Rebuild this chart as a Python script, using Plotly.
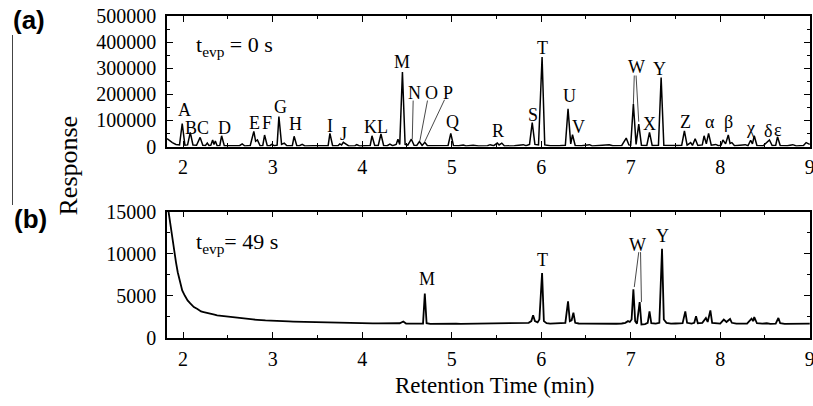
import plotly.graph_objects as go

# ---------------- DATA ----------------
# Panel (a): t_evp = 0 s chromatogram (retention time in min, response)
time_a = [1.82, 1.85, 1.88, 1.92, 1.96, 1.99, 2.02, 2.05, 2.08, 2.11, 2.15, 2.19, 2.22, 2.25, 2.27, 2.29,
          2.31, 2.33, 2.345, 2.36, 2.38, 2.41, 2.43, 2.46, 2.55, 2.63, 2.66, 2.69, 2.75, 2.79, 2.81, 2.83,
          2.86, 2.89, 2.91, 2.94, 2.97, 2.99, 3.02, 3.05, 3.07, 3.10, 3.13, 3.16, 3.22, 3.24, 3.27, 3.30,
          3.33, 3.36, 3.45, 3.55, 3.62, 3.64, 3.67, 3.73, 3.75, 3.77, 3.79, 3.82, 3.85, 3.92, 3.94, 3.97,
          4.05, 4.09, 4.11, 4.14, 4.18, 4.21, 4.24, 4.28, 4.31, 4.34, 4.38, 4.40, 4.42, 4.45, 4.48, 4.51,
          4.55, 4.58, 4.61, 4.64, 4.67, 4.70, 4.73, 4.80, 4.85, 4.96, 4.99, 5.02, 5.08, 5.13, 5.16, 5.24,
          5.30, 5.40, 5.43, 5.47, 5.51, 5.53, 5.56, 5.59, 5.70, 5.78, 5.80, 5.83, 5.87, 5.90, 5.93, 5.97,
          6.01, 6.04, 6.10, 6.20, 6.27, 6.30, 6.33, 6.35, 6.38, 6.45, 6.54, 6.57, 6.65, 6.76, 6.80, 6.90,
          6.95, 6.98, 7.00, 7.03, 7.06, 7.09, 7.12, 7.18, 7.21, 7.24, 7.31, 7.34, 7.37, 7.45, 7.52, 7.57,
          7.60, 7.63, 7.67, 7.69, 7.72, 7.75, 7.80, 7.82, 7.845, 7.87, 7.90, 7.95, 7.98, 8.01, 8.03, 8.06,
          8.09, 8.11, 8.13, 8.16, 8.22, 8.28, 8.31, 8.34, 8.36, 8.38, 8.41, 8.48, 8.55, 8.58, 8.62, 8.64,
          8.67, 8.75, 8.81, 8.85, 8.93, 8.96, 9.00]
resp_a = [30000, 22000, 15000, 8000, 6000, 88000, 5000, 6000, 54000, 6000, 5000, 35000, 5000, 4000, 13000, 3000,
          5000, 25000, 8000, 21000, 3000, 4000, 41000, 3000, 2000, 3000, 10000, 2000, 4000, 58000, 20000, 25000,
          3000, 4000, 44000, 3000, 3000, 8000, 3000, 5000, 115000, 8000, 13000, 3000, 3000, 39000, 3000, 3000,
          8000, 2000, 3000, 2000, 3000, 50000, 3000, 3000, 10000, 6000, 16000, 9000, 2000, 3000, 7000, 2000,
          3000, 4000, 41000, 4000, 4000, 48000, 4000, 3000, 9000, 3000, 8000, 28000, 8000, 285000, 8000, 5000,
          28000, 5000, 4000, 19000, 4000, 16000, 3000, 3000, 2000, 4000, 50000, 4000, 3000, 6000, 2000, 5000,
          2000, 3000, 7000, 3000, 13000, 6000, 13000, 2000, 3000, 4000, 7000, 3000, 8000, 92000, 8000, 6000,
          343000, 6000, 3000, 3000, 5000, 144000, 10000, 45000, 4000, 3000, 7000, 2000, 3000, 7000, 3000, 4000,
          32000, 6000, 5000, 163000, 8000, 86000, 5000, 4000, 54000, 4000, 5000, 264000, 5000, 3000, 4000, 5000,
          60000, 5000, 15000, 4000, 30000, 4000, 6000, 41000, 10000, 50000, 5000, 8000, 3000, 5000, 25000, 10000,
          44000, 12000, 15000, 3000, 4000, 7000, 3000, 24000, 10000, 41000, 4000, 3000, 25000, 4000, 5000, 37000,
          4000, 3000, 7000, 2000, 4000, 15000, 8000]

# Panel (b): t_evp = 49 s chromatogram
time_b = [1.83, 1.86, 1.88, 1.90, 1.92, 1.94, 1.96, 1.99, 2.02, 2.05, 2.08, 2.12, 2.16, 2.20, 2.23, 2.27,
          2.31, 2.35, 2.38, 2.43, 2.48, 2.52, 2.57, 2.62, 2.67, 2.72, 2.78, 2.83, 2.86, 2.92, 2.98, 3.05,
          3.12, 3.18, 3.23, 3.30, 3.37, 3.44, 3.50, 3.56, 3.60, 3.66, 3.72, 3.80, 3.86, 3.90, 3.94, 4.00,
          4.06, 4.12, 4.18, 4.24, 4.30, 4.36, 4.42, 4.46, 4.49, 4.55, 4.60, 4.65, 4.68, 4.70, 4.72, 4.76,
          4.82, 4.88, 4.94, 5.00, 5.05, 5.10, 5.16, 5.22, 5.28, 5.34, 5.40, 5.46, 5.52, 5.58, 5.64, 5.70,
          5.76, 5.82, 5.86, 5.89, 5.91, 5.93, 5.96, 5.98, 6.01, 6.03, 6.06, 6.10, 6.16, 6.22, 6.27, 6.30,
          6.32, 6.34, 6.36, 6.38, 6.42, 6.48, 6.54, 6.60, 6.66, 6.72, 6.78, 6.84, 6.90, 6.94, 6.97, 6.99,
          7.01, 7.03, 7.05, 7.07, 7.10, 7.12, 7.16, 7.19, 7.21, 7.23, 7.28, 7.32, 7.35, 7.37, 7.40, 7.45,
          7.50, 7.55, 7.58, 7.61, 7.63, 7.68, 7.71, 7.73, 7.75, 7.80, 7.84, 7.86, 7.89, 7.91, 7.95, 8.00,
          8.04, 8.07, 8.11, 8.13, 8.18, 8.24, 8.30, 8.35, 8.37, 8.38, 8.41, 8.47, 8.52, 8.56, 8.62, 8.65,
          8.67, 8.72, 8.80, 8.86, 8.92, 8.98, 9.00]
resp_b = [15500, 13200, 11800, 10600, 9000, 7800, 6900, 5650, 5000, 4460, 4100, 3670, 3450, 3150, 3080, 2950,
          2850, 2780, 2690, 2620, 2560, 2500, 2420, 2380, 2300, 2250, 2200, 2150, 2100, 2080, 2060, 2000,
          1980, 1960, 1940, 1920, 1900, 1880, 1860, 1840, 1820, 1800, 1790, 1780, 1770, 1750, 1720, 1740,
          1750, 1730, 1740, 1760, 1720, 1730, 1750, 1950, 1720, 1700, 1710, 1720, 1700, 5260, 1750, 1680,
          1700, 1690, 1710, 1760, 1700, 1680, 1690, 1700, 1680, 1710, 1690, 1700, 1670, 1690, 1700, 1760,
          1720, 1740, 1800, 2000, 2690, 2000, 1850, 2200, 7700, 2000, 1750, 1700, 1720, 1700, 1800, 4350,
          2000, 2100, 3000, 1800, 1720, 1700, 1690, 1760, 1720, 1700, 1710, 1690, 1720, 1800, 2000, 1900,
          2200, 5770, 2000, 1700, 4270, 1600, 1650, 1800, 3160, 1750, 1700, 1800, 10580, 2200, 1800, 1700,
          1720, 1700, 1750, 3160, 1800, 1700, 1800, 2570, 1750, 1800, 2370, 1900, 3280, 1800, 1750, 1700,
          2180, 1900, 2250, 1800, 1700, 1680, 1700, 2300, 2000, 2490, 1750, 1700, 1750, 1680, 1700, 2380,
          1750, 1680, 1700, 1660, 1720, 1690, 1700]

# Peak labels, panel (a)
labels_a = ["A", "BC", "D", "E", "F", "G", "H", "I", "J", "KL", "M", "N", "O", "P", "Q", "R", "S", "T",
            "U", "V", "W", "X", "Y", "Z", "α", "β", "χ", "δ", "ε"]
label_t_a = [2.01, 2.15, 2.46, 2.80, 2.94, 3.09, 3.26, 3.64, 3.79, 4.155, 4.45, 4.59, 4.77, 4.96, 5.01,
             5.52, 5.91, 6.01, 6.32, 6.42, 7.06, 7.21, 7.32, 7.61, 7.89, 8.09, 8.34, 8.53, 8.65]
label_v_a = [140000, 71000, 71000, 90000, 90000, 150000, 86000, 80000, 48000, 74000, 324000, 206000,
             206000, 206000, 92500, 60500, 122000, 379000, 195000, 73000, 305000, 86000, 298000, 92500,
             92500, 92500, 71000, 60500, 63000]
# Leader lines, panel (a): (t_start, v_start, t_end, v_end)
leaders_a = [(4.57, 176000, 4.56, 28000), (4.73, 176000, 4.645, 22000), (4.92, 179000, 4.70, 19000),
             (7.04, 272000, 7.03, 163000), (7.06, 272000, 7.09, 95000)]

# Peak labels, panel (b)
labels_b = ["M", "T", "W", "Y"]
label_t_b = [4.73, 6.01, 7.08, 7.35]
label_v_b = [7030, 9200, 11060, 12080]
leaders_b = [(7.09, 10180, 7.04, 6040), (7.11, 10180, 7.12, 4260)]

x_ticks = [2, 3, 4, 5, 6, 7, 8, 9]
y_ticks_a = [0, 100000, 200000, 300000, 400000, 500000]
y_ticks_b = [0, 5000, 10000, 15000]

# ---------------- FIGURE ----------------
W, H = 813, 406
SERIF = "Liberation Serif, Times New Roman, serif"
SANS = "Liberation Sans, Arial, sans-serif"

fig = go.Figure()
fig.add_trace(go.Scatter(x=time_a, y=resp_a, mode="lines", line=dict(color="black", width=1.5),
                         xaxis="x", yaxis="y", showlegend=False, hoverinfo="skip"))
fig.add_trace(go.Scatter(x=time_b, y=resp_b, mode="lines", line=dict(color="black", width=1.8),
                         xaxis="x2", yaxis="y2", showlegend=False, hoverinfo="skip"))

xdom = [167 / W, 810 / W]
ydom_a = [1 - 146.5 / H, 1 - 16 / H]
ydom_b = [1 - 338 / H, 1 - 211.5 / H]

axis_common = dict(showline=True, linecolor="black", linewidth=1.6, mirror="ticks",
                   ticks="inside", ticklen=6, tickwidth=1.4, tickcolor="black",
                   showgrid=False, zeroline=False, automargin=False,
                   tickfont=dict(family=SERIF, size=20, color="black"))

fig.update_layout(
    width=W, height=H, margin=dict(l=0, r=0, t=0, b=0, pad=0), autosize=False,
    paper_bgcolor="white", plot_bgcolor="white",
    xaxis=dict(domain=xdom, range=[1.82, 9.003], anchor="y", tickvals=x_ticks,
               minor=dict(dtick=0.5, ticks="inside", ticklen=3.5, tickwidth=1.2, tickcolor="black"),
               ticklabelstandoff=2, ticklabeloverflow="allow", **axis_common),
    yaxis=dict(domain=ydom_a, range=[0, 500000], anchor="x", tickvals=y_ticks_a,
               tickformat="d",
               minor=dict(dtick=50000, ticks="inside", ticklen=3.5, tickwidth=1.2, tickcolor="black"),
               ticklabelstandoff=5, **axis_common),
    xaxis2=dict(domain=xdom, range=[1.82, 9.003], anchor="y2", tickvals=x_ticks,
                minor=dict(dtick=0.5, ticks="inside", ticklen=3.5, tickwidth=1.2, tickcolor="black"),
                ticklabelstandoff=2, ticklabeloverflow="allow", **axis_common),
    yaxis2=dict(domain=ydom_b, range=[0, 15000], anchor="x2", tickvals=y_ticks_b,
                tickformat="d",
                minor=dict(dtick=2500, ticks="inside", ticklen=3.5, tickwidth=1.2, tickcolor="black"),
                ticklabelstandoff=5, **axis_common),
)

ann = []
for lab, t, v in zip(labels_a, label_t_a, label_v_a):
    ann.append(dict(x=t, y=v, xref="x", yref="y", text=lab, showarrow=False,
                    xanchor="center", yanchor="middle",
                    font=dict(family=SERIF, size=18, color="black")))
for lab, t, v in zip(labels_b, label_t_b, label_v_b):
    ann.append(dict(x=t, y=v, xref="x2", yref="y2", text=lab, showarrow=False,
                    xanchor="center", yanchor="middle",
                    font=dict(family=SERIF, size=18, color="black")))

# panel tags, evaporation time texts, axis titles
ann += [
    dict(x=29 / W, y=1 - 20 / H, xref="paper", yref="paper", text="<b>(a)</b>", showarrow=False,
         xanchor="center", yanchor="middle", font=dict(family=SANS, size=26, color="black")),
    dict(x=30 / W, y=1 - 219 / H, xref="paper", yref="paper", text="<b>(b)</b>", showarrow=False,
         xanchor="center", yanchor="middle", font=dict(family=SANS, size=26, color="black")),
    dict(x=194 / W, y=1 - 46 / H, xref="paper", yref="paper", text="t<sub>evp</sub> = 0 s",
         showarrow=False, xanchor="left", yanchor="middle",
         font=dict(family=SERIF, size=22, color="black")),
    dict(x=194 / W, y=1 - 243 / H, xref="paper", yref="paper", text="t<sub>evp</sub>= 49 s",
         showarrow=False, xanchor="left", yanchor="middle",
         font=dict(family=SERIF, size=22, color="black")),
    dict(x=68 / W, y=1 - 165.5 / H, xref="paper", yref="paper", text="Response", textangle=-90,
         showarrow=False, xanchor="center", yanchor="middle",
         font=dict(family=SERIF, size=26, color="black")),
    dict(x=494 / W, y=1 - 385 / H, xref="paper", yref="paper", text="Retention Time (min)",
         showarrow=False, xanchor="center", yanchor="middle",
         font=dict(family=SERIF, size=23, color="black")),
]
fig.update_layout(annotations=ann)

shapes = []
for (t0, v0, t1, v1) in leaders_a:
    shapes.append(dict(type="line", xref="x", yref="y", x0=t0, y0=v0, x1=t1, y1=v1,
                       line=dict(color="#333", width=0.9)))
for (t0, v0, t1, v1) in leaders_b:
    shapes.append(dict(type="line", xref="x2", yref="y2", x0=t0, y0=v0, x1=t1, y1=v1,
                       line=dict(color="#333", width=0.9)))
# thin vertical rule at the far left
shapes.append(dict(type="line", xref="paper", yref="paper", x0=12.5 / W, x1=12.5 / W,
                   y0=1 - 205 / H, y1=1 - 35 / H, line=dict(color="#444", width=1)))
fig.update_layout(shapes=shapes)

fig.write_html("out.html", config={"displayModeBar": False},
               post_script="document.body.style.margin='0';document.body.style.overflow='hidden';")
